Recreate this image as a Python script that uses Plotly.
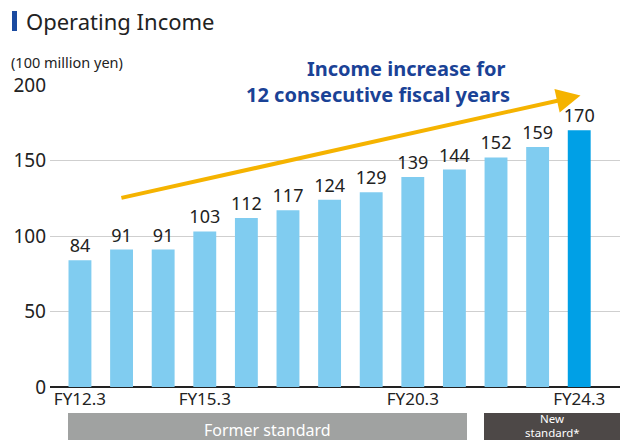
import plotly.graph_objects as go

categories = ["FY12.3", "FY13.3", "FY14.3", "FY15.3", "FY16.3", "FY17.3", "FY18.3",
              "FY19.3", "FY20.3", "FY21.3", "FY22.3", "FY23.3", "FY24.3"]
values = [84, 91, 91, 103, 112, 117, 124, 129, 139, 144, 152, 159, 170]
tick_idx = [0, 3, 8, 12]
tick_labels = ["FY12.3", "FY15.3", "FY20.3", "FY24.3"]

W, H = 620, 440
ML, MR, MT, MB = 50, 0, 85, 53
PW, PH = W - ML - MR, H - MT - MB

def px(x):
    return (x - ML) / PW

def py(y):
    return (H - MB - y) / PH

xs = list(range(len(categories)))
colors = ["#80ccf0"] * (len(values) - 1) + ["#00a0e6"]
FONT = "Noto Sans"

fig = go.Figure()
fig.add_trace(go.Bar(
    x=xs, y=values, marker_color=colors, marker_line_width=0, width=0.55,
    text=[str(v) for v in values], textposition="outside", constraintext="none",
    textfont=dict(size=18, color="#222", family=FONT), cliponaxis=False,
    hoverinfo="skip",
))

fig.update_layout(
    width=W, height=H, margin=dict(l=ML, r=MR, t=MT, b=MB),
    paper_bgcolor="white", plot_bgcolor="white", showlegend=False,
    font=dict(family=FONT, color="#222"),
    xaxis=dict(range=[-0.72, 12.98], tickvals=tick_idx, ticktext=tick_labels,
               showgrid=False, showline=False, ticks="", tickfont=dict(size=17, color="#222"),
               zeroline=False, ticklabelstandoff=0, fixedrange=True),
    yaxis=dict(range=[0, 200], tickvals=[0, 50, 100, 150, 200], showgrid=True,
               gridcolor="#cfcfcf", gridwidth=1, zeroline=True, zerolinecolor="#222",
               zerolinewidth=1.5, ticks="", tickfont=dict(size=19, color="#222"),
               ticklabelstandoff=3, fixedrange=True),
    bargap=0.45,
)

shapes = [
    dict(type="rect", xref="paper", yref="paper", x0=px(12), x1=px(17), y0=py(31), y1=py(11),
         fillcolor="#1a4aa0", line_width=0),
    dict(type="rect", xref="paper", yref="paper", x0=px(68), x1=px(467), y0=py(440), y1=py(413),
         fillcolor="#a0a2a1", line_width=0),
    dict(type="rect", xref="paper", yref="paper", x0=px(484), x1=px(620), y0=py(440), y1=py(413),
         fillcolor="#4d4847", line_width=0),
]
fig.update_layout(shapes=shapes)

anns = [
    dict(text="Operating Income", xref="paper", yref="paper", x=px(24), y=py(21),
         xanchor="left", yanchor="middle", showarrow=False, font=dict(size=22, color="#222", family=FONT)),
    dict(text="(100 million yen)", xref="paper", yref="paper", x=px(9), y=py(62),
         xanchor="left", yanchor="middle", showarrow=False, font=dict(size=14.5, color="#222", family=FONT)),
    dict(text="Former standard", xref="paper", yref="paper", x=px(267), y=py(430),
         xanchor="center", yanchor="middle", showarrow=False, font=dict(size=16, color="white", family=FONT)),
    dict(text="New", xref="paper", yref="paper", x=px(552), y=py(418.5),
         xanchor="center", yanchor="middle", showarrow=False, borderpad=0,
         font=dict(size=11.5, color="white", family=FONT)),
    dict(text="standard*", xref="paper", yref="paper", x=px(552), y=py(432.6),
         xanchor="center", yanchor="middle", showarrow=False, borderpad=0,
         font=dict(size=11.5, color="white", family=FONT)),
    dict(text="<b>Income increase for</b>", xref="paper", yref="paper",
         x=px(406), y=py(68), xanchor="center", yanchor="middle", showarrow=False, borderpad=0,
         font=dict(size=20, color="#1a4296", family=FONT)),
    dict(text="<b>12 consecutive fiscal years</b>", xref="paper", yref="paper",
         x=px(378), y=py(95), xanchor="center", yanchor="middle", showarrow=False, borderpad=0,
         font=dict(size=20, color="#1a4296", family=FONT)),
    dict(xref="x", yref="y", x=12.03, y=193, axref="x", ayref="y", ax=0.96, ay=125,
         showarrow=True, arrowhead=2, arrowsize=1.2, arrowwidth=4, arrowcolor="#f5b300", text=""),
]
fig.update_layout(annotations=anns)

fig.write_html("out.html", config={"displayModeBar": False, "staticPlot": True})
with open("out.html", encoding="utf-8") as f:
    html = f.read()
html = html.replace("<head>", "<head><style>html,body{margin:0;padding:0;}</style>", 1)
with open("out.html", "w", encoding="utf-8") as f:
    f.write(html)
